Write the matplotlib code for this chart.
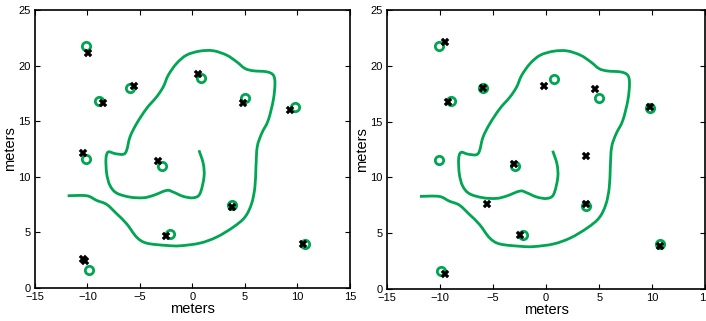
import matplotlib
matplotlib.use("Agg")
import matplotlib.pyplot as plt
from matplotlib.path import Path
from matplotlib.patches import PathPatch

# Path (same in both panels)
path_x = [-11.89, -10.08, -9.13, -8.17, -7.22, -6.27, -5.32, -4.37, -2.46, -1.19,
          0.71, 2.30, 3.89, 5.00, 5.63, 5.95, 6.05, 6.17, 6.59, 7.22, 7.70, 7.86,
          7.70, 7.06, 5.79, 5.00, 4.21, 3.25, 1.98, 0.71, -0.56, -1.51, -2.30,
          -2.78, -3.41, -4.37, -5.32, -5.95, -6.27, -6.59, -7.38, -8.02, -8.24,
          -8.17, -7.86, -7.22, -5.95, -4.68, -3.73, -2.46, -1.83, -0.87, 0.08,
          0.71, 1.10, 1.03, 0.62]
path_y = [8.29, 8.29, 7.87, 7.51, 6.67, 5.77, 4.57, 4.03, 3.82, 3.79,
          4.03, 4.57, 5.47, 6.37, 7.57, 9.07, 10.88, 12.68, 13.88, 15.08, 16.89, 18.39,
          19.14, 19.44, 19.53, 19.74, 20.34, 20.94, 21.33, 21.30, 20.94, 20.19, 19.14,
          18.09, 17.19, 16.14, 14.78, 13.58, 12.38, 12.02, 12.08, 12.23, 11.63,
          10.28, 9.22, 8.53, 8.17, 8.11, 8.32, 8.77, 8.62, 8.23, 8.11,
          8.47, 9.98, 11.18, 12.38]

# Green circles (true positions, same in both panels)
circ_x = [-10.1, -8.95, -5.93, 0.78, 4.98, 9.81, -10.1, -2.89, 3.78, -2.18, 10.72, -9.88]
circ_y = [21.79, 16.85, 17.98, 18.84, 17.12, 16.23, 11.57, 10.97, 7.46, 4.85, 3.99, 1.63]

# Black crosses, left panel
left_x = [-9.95, -8.49, -5.57, 0.52, 4.81, 9.25, -10.40, -3.29, 3.79, -2.52, 10.56, -10.40, -10.27]
left_y = [21.15, 16.62, 18.15, 19.26, 16.62, 16.02, 12.17, 11.45, 7.24, 4.66, 3.91, 2.64, 2.46]

# Black crosses, right panel
right_x = [-9.48, -9.23, -5.97, -0.16, 4.61, 9.79, 3.79, -3.06, -5.59, 3.73, -2.46, 10.77, -9.54]
right_y = [22.13, 16.72, 18.03, 18.15, 17.88, 16.30, 11.93, 11.21, 7.57, 7.57, 4.87, 3.86, 1.32]

xticks = [-15, -10, -5, 0, 5, 10, 15]
yticks = [0, 5, 10, 15, 20, 25]

green = "#00a651"


def smooth_path(xs, ys):
    """Catmull-Rom through the read points, drawn as cubic Bezier segments."""
    pts = list(zip(xs, ys))
    n = len(pts)
    verts = [pts[0]]
    codes = [Path.MOVETO]
    for i in range(n - 1):
        p0 = pts[i - 1] if i > 0 else pts[i]
        p1 = pts[i]
        p2 = pts[i + 1]
        p3 = pts[i + 2] if i + 2 < n else pts[i + 1]
        c1 = (p1[0] + (p2[0] - p0[0]) / 6.0, p1[1] + (p2[1] - p0[1]) / 6.0)
        c2 = (p2[0] - (p3[0] - p1[0]) / 6.0, p2[1] - (p3[1] - p1[1]) / 6.0)
        verts += [c1, c2, p2]
        codes += [Path.CURVE4] * 3
    return Path(verts, codes)


plt.rcParams['font.family'] = ['Liberation Sans', 'DejaVu Sans']
fig = plt.figure(figsize=(7.06, 3.21), dpi=100)
ax1 = fig.add_axes([0.0496, 0.103, 0.446, 0.866])
ax2 = fig.add_axes([0.548, 0.100, 0.451, 0.869])

for ax, cx, cy in [(ax1, left_x, left_y), (ax2, right_x, right_y)]:
    ax.add_patch(PathPatch(smooth_path(path_x, path_y), facecolor='none',
                           edgecolor=green, lw=2.0, capstyle='butt'))
    ax.plot(circ_x, circ_y, linestyle='none', marker='o', markersize=6,
            markerfacecolor='white', markeredgecolor=green, markeredgewidth=2.0, zorder=3)
    ax.plot(cx, cy, linestyle='none', marker='X', markersize=5.5,
            color='black', markeredgewidth=0.3, zorder=4)
    ax.set_xlim(-15, 15)
    ax.set_ylim(0, 25)
    ax.set_xticks(xticks)
    ax.set_yticks(yticks)
    ax.tick_params(direction='in', top=True, right=True, length=3.5, width=0.8,
                   labelsize=8)
    ax.tick_params(axis='y', pad=3)
    ax.tick_params(axis='x', pad=3)
    for s in ax.spines.values():
        s.set_linewidth(1.2)
    ax.set_xlabel('meters', fontsize=10.5, labelpad=0)
    ax.set_ylabel('meters', fontsize=10.5, labelpad=1)

fig.savefig('out.png', dpi=100)
